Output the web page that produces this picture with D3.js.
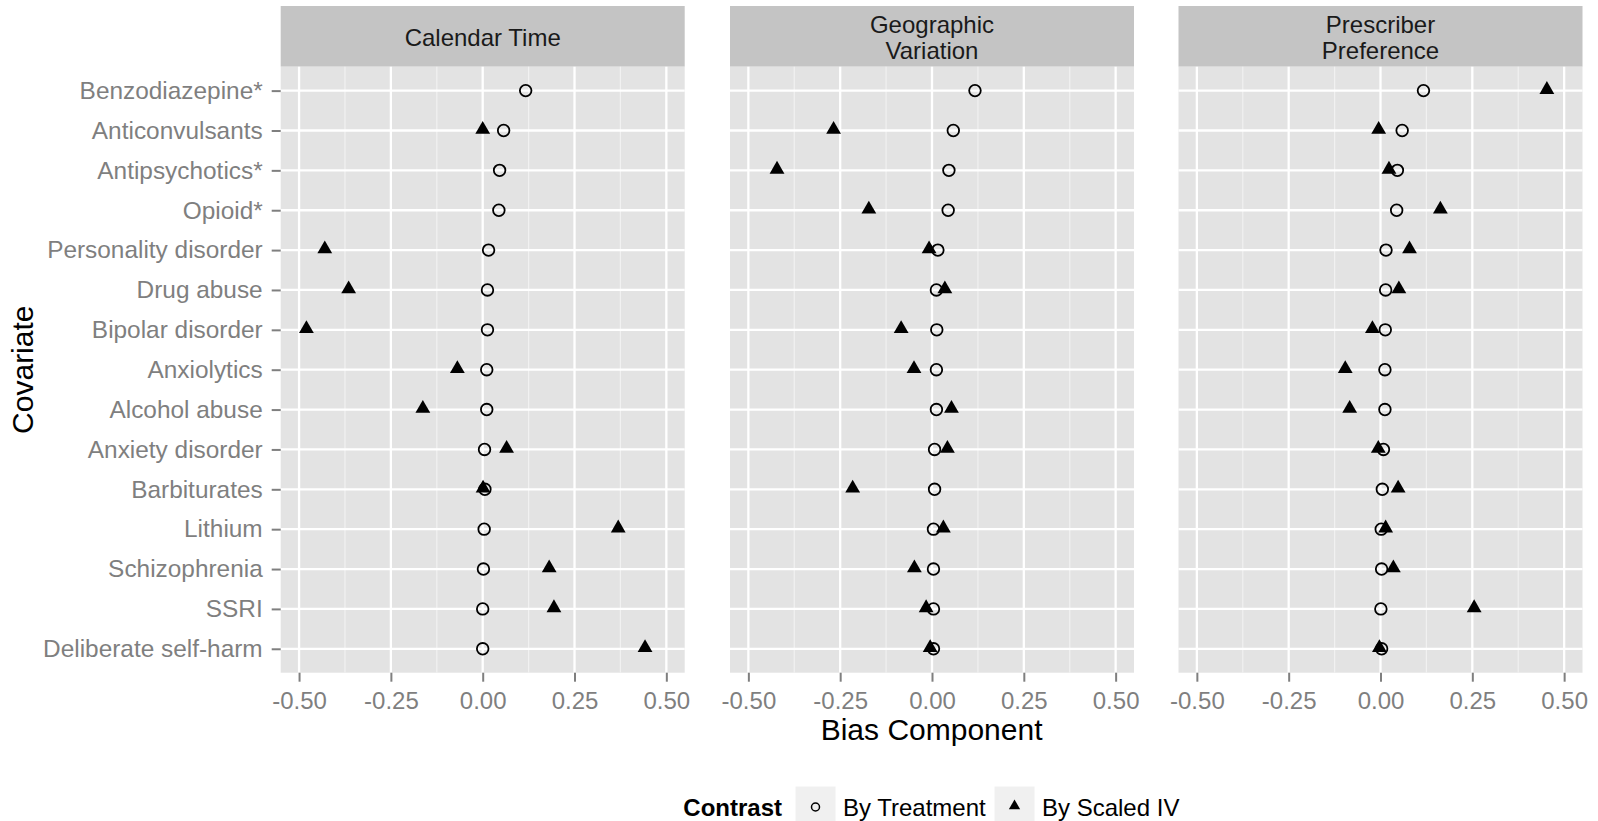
<!DOCTYPE html>
<html>
<head>
<meta charset="utf-8">
<script src="https://cdn.jsdelivr.net/npm/d3@7"></script>
<style>
  html, body { margin: 0; padding: 0; background: #ffffff; }
  svg { display: block; font-family: "Liberation Sans", Arial, Helvetica, sans-serif; }
</style>
</head>
<body>
<svg id="chart" width="1598" height="821"></svg>
<script>
// ---------------- DATA ----------------
const categories = [
  "Benzodiazepine*", "Anticonvulsants", "Antipsychotics*", "Opioid*",
  "Personality disorder", "Drug abuse", "Bipolar disorder", "Anxiolytics",
  "Alcohol abuse", "Anxiety disorder", "Barbiturates", "Lithium",
  "Schizophrenia", "SSRI", "Deliberate self-harm"
];
const panelTitles = [["Calendar Time"], ["Geographic", "Variation"], ["Prescriber", "Preference"]];

const calendarTreatment = [0.117, 0.057, 0.046, 0.044, 0.016, 0.013, 0.013, 0.011, 0.011, 0.005, 0.006, 0.004, 0.002, 0.000, 0.000];
const calendarScaledIV  = [null, 0.000, null, null, -0.430, -0.365, -0.480, -0.069, -0.163, 0.065, 0.001, 0.369, 0.181, 0.194, 0.442];

const geographicTreatment = [0.117, 0.058, 0.046, 0.044, 0.016, 0.012, 0.013, 0.012, 0.012, 0.007, 0.007, 0.004, 0.004, 0.004, 0.004];
const geographicScaledIV  = [null, -0.268, -0.422, -0.172, -0.008, 0.035, -0.084, -0.049, 0.053, 0.042, -0.216, 0.031, -0.048, -0.016, -0.005];

const prescriberTreatment = [0.117, 0.059, 0.046, 0.044, 0.015, 0.014, 0.013, 0.012, 0.012, 0.008, 0.005, 0.002, 0.003, 0.001, 0.003];
const prescriberScaledIV  = [0.453, -0.005, 0.023, 0.163, 0.079, 0.050, -0.022, -0.096, -0.084, -0.006, 0.048, 0.014, 0.035, 0.255, -0.003];

const xTicks = [-0.5, -0.25, 0, 0.25, 0.5];
const xMinorTicks = [-0.375, -0.125, 0.125, 0.375];
const xTickLabels = ["-0.50", "-0.25", "0.00", "0.25", "0.50"];
const legendTitle = "Contrast";
const legendLabels = ["By Treatment", "By Scaled IV"];
const xTitle = "Bias Component";
const yTitle = "Covariate";

const panels = [
  { title: panelTitles[0], treat: calendarTreatment,   iv: calendarScaledIV },
  { title: panelTitles[1], treat: geographicTreatment, iv: geographicScaledIV },
  { title: panelTitles[2], treat: prescriberTreatment, iv: prescriberScaledIV }
];

// ---------------- LAYOUT ----------------
const svg = d3.select("#chart");
const panelLefts = [280.7, 730, 1178.5];
const panelW = 404;
const stripTop = 6, panelTop = 66.7, panelBottom = 672.7;

const C = {
  panelBg: "#e3e3e3", strip: "#c4c4c4", major: "#ffffff", minor: "#f1f1f1",
  axisText: "#7f7f7f", tick: "#7f7f7f", keyBg: "#f0f0f0"
};

const y = d3.scalePoint().domain(categories).range([panelTop, panelBottom]).padding(0.6);

panels.forEach((p, pi) => {
  const left = panelLefts[pi];
  const x = d3.scaleLinear().domain([-0.55, 0.55]).range([left, left + panelW]);
  const g = svg.append("g");

  // strip
  g.append("rect").attr("x", left).attr("y", stripTop)
    .attr("width", panelW).attr("height", panelTop - stripTop).attr("fill", C.strip);
  const nLines = p.title.length;
  const lineH = 26.5;
  const midStrip = (stripTop + panelTop) / 2 + 1;
  p.title.forEach((t, i) => {
    g.append("text").attr("x", left + panelW / 2)
      .attr("y", midStrip + (i - (nLines - 1) / 2) * lineH)
      .attr("dy", "0.35em").attr("text-anchor", "middle")
      .attr("font-size", 24).attr("fill", "#1a1a1a").text(t);
  });

  // panel background
  g.append("rect").attr("x", left).attr("y", panelTop)
    .attr("width", panelW).attr("height", panelBottom - panelTop).attr("fill", C.panelBg);

  // minor grid
  g.selectAll(".minor").data(xMinorTicks).enter().append("line")
    .attr("x1", d => x(d)).attr("x2", d => x(d))
    .attr("y1", panelTop).attr("y2", panelBottom)
    .attr("stroke", C.minor).attr("stroke-width", 1.2);
  // major grid vertical
  g.selectAll(".majorx").data(xTicks).enter().append("line")
    .attr("x1", d => x(d)).attr("x2", d => x(d))
    .attr("y1", panelTop).attr("y2", panelBottom)
    .attr("stroke", C.major).attr("stroke-width", 2.3);
  // major grid horizontal
  g.selectAll(".majory").data(categories).enter().append("line")
    .attr("x1", left).attr("x2", left + panelW)
    .attr("y1", d => y(d)).attr("y2", d => y(d))
    .attr("stroke", C.major).attr("stroke-width", 2.3);

  // x axis
  const xAxis = d3.axisBottom(x).tickValues(xTicks)
    .tickFormat((d, i) => xTickLabels[i]).tickSize(9).tickPadding(10);
  const ax = g.append("g").attr("transform", `translate(0,${panelBottom})`).call(xAxis);
  ax.select(".domain").remove();
  ax.selectAll(".tick line").attr("stroke", C.tick).attr("stroke-width", 2);
  ax.selectAll(".tick text").attr("fill", C.axisText).attr("font-size", 24)
    .attr("font-family", "Liberation Sans, Arial, sans-serif");

  // y axis only on first panel
  if (pi === 0) {
    const yAxis = d3.axisLeft(y).tickSize(9).tickPadding(9);
    const ay = g.append("g").attr("transform", `translate(${left},0)`).call(yAxis);
    ay.select(".domain").remove();
    ay.selectAll(".tick line").attr("stroke", C.tick).attr("stroke-width", 2);
    ay.selectAll(".tick text").attr("fill", C.axisText).attr("font-size", 24.4)
      .attr("font-family", "Liberation Sans, Arial, sans-serif");
  }

  // points: triangles (By Scaled IV)
  const tri = d3.symbol().type(d3.symbolTriangle).size(95);
  g.selectAll(".tri").data(categories.map((c, i) => ({ c, v: p.iv[i] })).filter(d => d.v !== null))
    .enter().append("path").attr("d", tri)
    .attr("transform", d => `translate(${x(d.v)},${y(d.c) - 1})`)
    .attr("fill", "#000");
  // circles (By Treatment)
  g.selectAll(".circ").data(categories.map((c, i) => ({ c, v: p.treat[i] })).filter(d => d.v !== null))
    .enter().append("circle")
    .attr("cx", d => x(d.v)).attr("cy", d => y(d.c)).attr("r", 5.8)
    .attr("fill", "none").attr("stroke", "#000").attr("stroke-width", 1.8);
});

// axis titles
const plotMid = (panelLefts[0] + panelLefts[2] + panelW) / 2;
svg.append("text").attr("x", plotMid).attr("y", 740).attr("text-anchor", "middle")
  .attr("font-size", 30).attr("fill", "#000").text(xTitle);
svg.append("text").attr("transform", `translate(22,${(panelTop + panelBottom) / 2}) rotate(-90)`)
  .attr("text-anchor", "middle").attr("dy", "0.35em")
  .attr("font-size", 30).attr("fill", "#000").text(yTitle);

// legend
const legY = 808;
const lg = svg.append("g");
lg.append("text").attr("x", 782).attr("y", legY).attr("dy", "0.35em").attr("text-anchor", "end")
  .attr("font-size", 24).attr("font-weight", "bold").attr("fill", "#000").text(legendTitle);
const keyX = [795, 994];
const labX = [843, 1042];
keyX.forEach((kx, i) => {
  lg.append("rect").attr("x", kx).attr("y", 786).attr("width", 41).attr("height", 41)
    .attr("fill", C.keyBg).attr("stroke", "#ffffff").attr("stroke-width", 1);
  const cx = kx + 20.5, cy = 807;
  if (i === 0) {
    lg.append("circle").attr("cx", cx).attr("cy", cy).attr("r", 4)
      .attr("fill", "none").attr("stroke", "#000").attr("stroke-width", 1.5);
  } else {
    lg.append("path").attr("d", d3.symbol().type(d3.symbolTriangle).size(55))
      .attr("transform", `translate(${cx},${cy - 1})`).attr("fill", "#000");
  }
  lg.append("text").attr("x", labX[i]).attr("y", legY).attr("dy", "0.35em")
    .attr("font-size", 24).attr("fill", "#000").text(legendLabels[i]);
});
</script>
</body>
</html>
